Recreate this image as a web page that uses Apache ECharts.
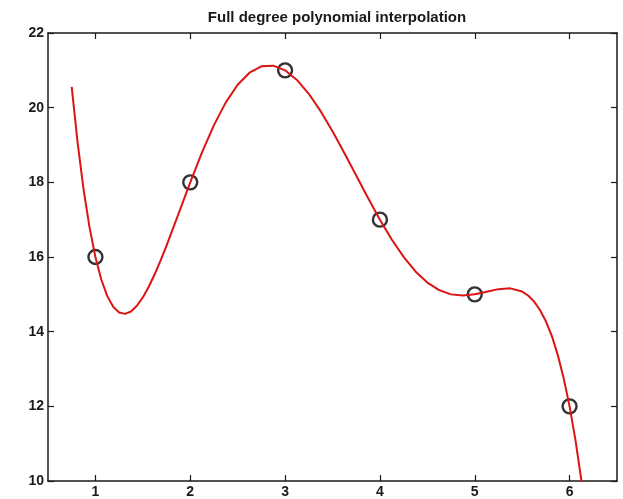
<!DOCTYPE html>
<html>
<head>
<meta charset="utf-8">
<style>
  html, body { margin: 0; padding: 0; background: #ffffff; }
  #chart { width: 623px; height: 499px; }
</style>
<script src="https://cdn.jsdelivr.net/npm/echarts@6/dist/echarts.min.js"></script>
</head>
<body>
<div id="chart"></div>
<script>
// Sample points being interpolated
const pointX = [1, 2, 3, 4, 5, 6];
const pointY = [16, 18, 21, 17, 15, 12];

// Degree-5 interpolating polynomial, sampled along x (denser where it bends sharply)
const curveX = [0.75, 0.8125, 0.875, 0.9375, 1, 1.0625, 1.125, 1.1875, 1.25, 1.3125,
  1.375, 1.4375, 1.5, 1.5625, 1.625, 1.6875, 1.75, 1.875,
  2, 2.125, 2.25, 2.375, 2.5, 2.625, 2.75, 2.875, 3, 3.125,
  3.25, 3.375, 3.5, 3.625, 3.75, 3.875, 4, 4.125, 4.25, 4.375,
  4.5, 4.625, 4.75, 4.875, 5, 5.125, 5.25, 5.375, 5.5, 5.5625, 5.625, 5.6875,
  5.75, 5.8125, 5.875, 5.9375, 6, 6.0625, 6.125, 6.1875, 6.25];
const curveY = [20.559, 19.057, 17.811, 16.800, 16, 15.391, 14.952, 14.665, 14.512, 14.476,
  14.541, 14.693, 14.918, 15.203, 15.537, 15.908, 16.306, 17.149,
  18, 18.808, 19.532, 20.141, 20.613, 20.937, 21.107, 21.126, 21, 20.743,
  20.372, 19.907, 19.371, 18.788, 18.182, 17.578, 17, 16.468, 16.002, 15.614,
  15.316, 15.112, 14.999, 14.968, 15, 15.069, 15.139, 15.160, 15.074, 14.969, 14.808, 14.582,
  14.277, 13.889, 13.379, 12.755, 12, 11.089, 10.007, 8.735, 7.253];

// Tick labels
const xTicks = [1, 2, 3, 4, 5, 6];
const yTicks = [10, 12, 14, 16, 18, 20, 22];

const titleText = 'Full degree polynomial interpolation';

const FONT = "'Liberation Sans', Arial, Helvetica, sans-serif";
const INK = '#1a1a1a';

const chart = echarts.init(document.getElementById('chart'), null, { renderer: 'canvas' });

const lineStyle = { color: INK, width: 1.5 };
const tickStyle = { color: INK, width: 1.2 };

function xAxisDef(position, showLabels) {
  return {
    type: 'value',
    position: position,
    min: 0.5,
    max: 6.5,
    axisLine: { show: true, onZero: false, lineStyle: lineStyle },
    axisTick: { show: true, inside: true, length: 6, lineStyle: tickStyle, customValues: xTicks },
    axisLabel: {
      show: showLabels,
      customValues: xTicks,
      margin: 4,
      color: INK,
      fontFamily: FONT,
      fontWeight: 'bold',
      fontSize: 14
    },
    splitLine: { show: false }
  };
}

function yAxisDef(position, showLabels) {
  return {
    type: 'value',
    position: position,
    min: 10,
    max: 22,
    interval: 2,
    axisLine: { show: true, onZero: false, lineStyle: lineStyle },
    axisTick: { show: true, inside: true, length: 6, lineStyle: tickStyle, customValues: yTicks },
    axisLabel: {
      show: showLabels,
      customValues: yTicks,
      margin: 4,
      color: INK,
      fontFamily: FONT,
      fontWeight: 'bold',
      fontSize: 14
    },
    splitLine: { show: false }
  };
}

chart.setOption({
  animation: false,
  backgroundColor: '#ffffff',
  title: {
    text: titleText,
    left: 332,
    textAlign: 'center',
    top: 5,
    textStyle: { fontFamily: FONT, fontWeight: 'bold', fontSize: 15, color: INK }
  },
  grid: { left: 48, top: 33, right: 6, bottom: 18, containLabel: false },
  xAxis: [xAxisDef('bottom', true), xAxisDef('top', false)],
  yAxis: [yAxisDef('left', true), yAxisDef('right', false)],
  series: [
    {
      type: 'scatter',
      xAxisIndex: 0,
      yAxisIndex: 0,
      data: pointX.map((x, i) => [x, pointY[i]]),
      symbol: 'circle',
      symbolSize: 14,
      itemStyle: { color: 'rgba(0,0,0,0)', borderColor: '#000000', borderWidth: 2.4 },
      z: 2
    },
    {
      type: 'line',
      xAxisIndex: 0,
      yAxisIndex: 0,
      data: curveX.map((x, i) => [x, curveY[i]]),
      showSymbol: false,
      smooth: false,
      clip: true,
      lineStyle: { color: '#dc1414', width: 2, join: 'round' },
      z: 3
    }
  ]
});
</script>
</body>
</html>
